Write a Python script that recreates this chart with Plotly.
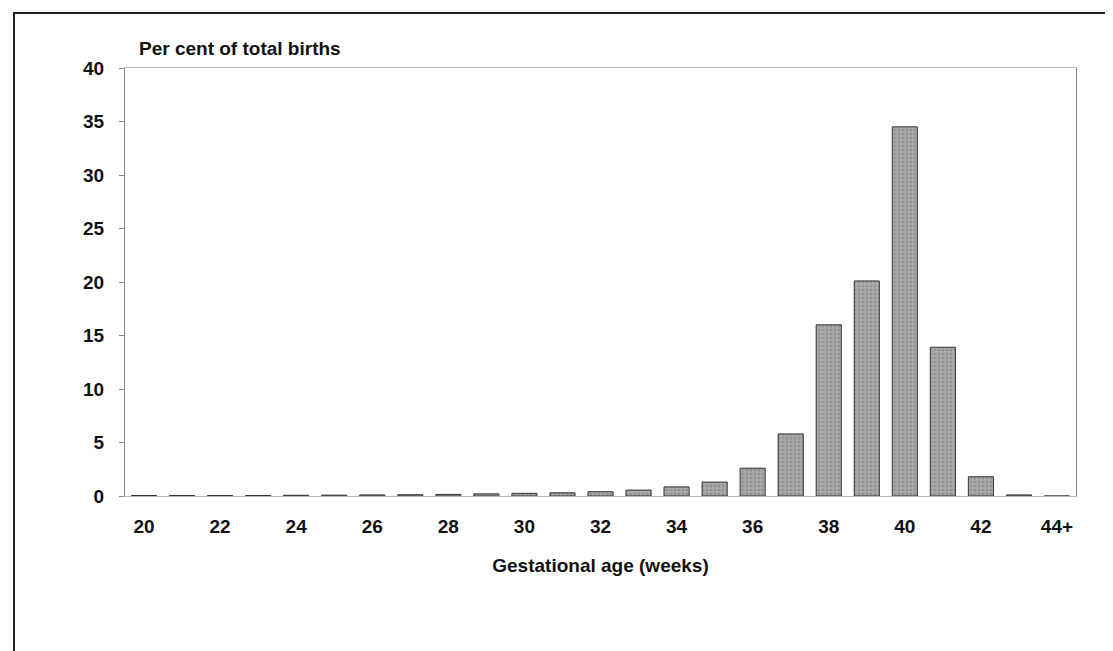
import plotly.graph_objects as go

weeks = ["20", "21", "22", "23", "24", "25", "26", "27", "28", "29", "30", "31",
         "32", "33", "34", "35", "36", "37", "38", "39", "40", "41", "42", "43", "44+"]
per_cent = [0.05, 0.05, 0.05, 0.05, 0.07, 0.08, 0.1, 0.12, 0.15, 0.2, 0.25, 0.3,
            0.4, 0.55, 0.85, 1.3, 2.6, 5.8, 16.0, 20.1, 34.5, 13.9, 1.8, 0.1, 0.0]
tick_labels = ["20", "22", "24", "26", "28", "30", "32", "34", "36", "38", "40", "42", "44+"]
y_ticks = [0, 5, 10, 15, 20, 25, 30, 35, 40]

W, H = 1113, 651
L, R, T, B = 117, 45, 60, 163

font = dict(family="Liberation Sans, Arial, sans-serif", size=19, color="#111", weight="bold")

fig = go.Figure(go.Bar(
    x=weeks,
    y=per_cent,
    marker=dict(color="#a9a9a9", line=dict(color="#333", width=1),
                pattern=dict(shape=".", fgcolor="#7a7a7a", size=4, solidity=0.35)),
    showlegend=False,
))

fig.update_layout(
    width=W, height=H,
    margin=dict(l=L, r=R, t=T, b=B),
    paper_bgcolor="white",
    plot_bgcolor="white",
    bargap=0.34,
    font=font,
)

fig.update_xaxes(
    type="category",
    tickvals=tick_labels, ticktext=tick_labels,
    showgrid=False, zeroline=False,
    showline=True, linecolor="#b8b8b8", linewidth=1, mirror=True,
    ticks="", ticklabelstandoff=13,
    tickfont=font,
    title=dict(text="Gestational age (weeks)", standoff=22, font=font),
)

fig.update_yaxes(
    range=[0, 40], tickvals=y_ticks,
    showgrid=False, zeroline=False,
    showline=True, linecolor="#8a8a8a", linewidth=1, mirror=True,
    ticks="outside", ticklen=5, tickcolor="#8a8a8a",
    ticklabelstandoff=11,
    tickfont=font,
)

pw, ph = W - L - R, H - T - B

fig.add_annotation(
    text="Per cent of total births",
    xref="paper", yref="paper",
    x=(129 - L) / pw, y=1 + (T - 40) / ph,
    xanchor="left", yanchor="middle", showarrow=False,
    font=font,
)

# outer frame of the figure (cropped on the right and bottom)
fig.add_shape(
    type="rect", xref="paper", yref="paper",
    x0=(6 - L) / pw, x1=(W + 10 - L) / pw,
    y0=1 - (H + 10 - T) / ph, y1=1 + (T - 5) / ph,
    line=dict(color="#222", width=2), layer="above",
)

fig.write_html("out.html")
